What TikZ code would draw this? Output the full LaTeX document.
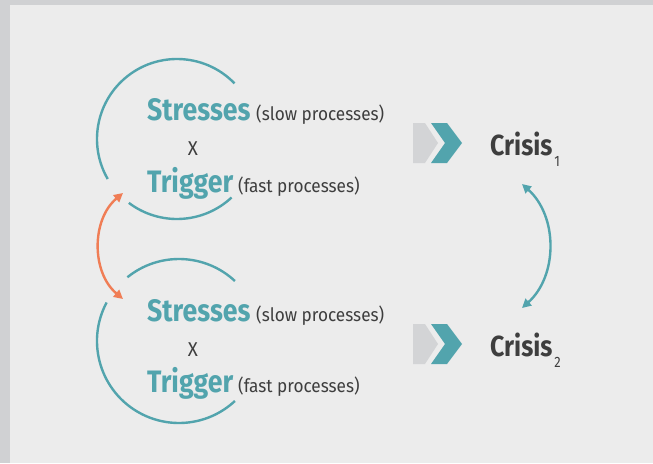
\documentclass[tikz,border=0pt]{standalone}
\usepackage{fontspec}
\setmainfont{Fira Sans}[FakeStretch=0.86]
\newfontfamily\smallfam{Fira Sans}[FakeStretch=0.93]
\usetikzlibrary{arrows.meta}
\definecolor{frame}{RGB}{208,209,211}
\definecolor{bg}{RGB}{236,236,236}
\definecolor{tealc}{RGB}{82,164,173}
\definecolor{orangec}{RGB}{240,125,85}
\definecolor{chevgray}{RGB}{211,212,214}
\definecolor{txt}{RGB}{62,62,62}
\tikzset{
  ring/.style={draw=tealc, line width=2.4pt},
  bigword/.style={anchor=base west, inner sep=0pt, text=tealc, font=\fontsize{31}{31}\selectfont\bfseries},
  smallword/.style={anchor=base west, inner sep=0pt, text=txt, font=\smallfam\fontsize{18.5}{18.5}\selectfont},
  timesx/.style={inner sep=0pt, text=txt, font=\smallfam\fontsize{20}{20}\selectfont},
  crisis/.style={anchor=base west, inner sep=0pt, text=txt, font=\fontsize{29}{29}\selectfont\bfseries},
  bidir/.style={line width=2.4pt, {Triangle[length=9pt,width=9pt]}-{Triangle[length=9pt,width=9pt]}},
}
\begin{document}
\begin{tikzpicture}[x=1pt,y=-1pt]
\useasboundingbox (0,0) rectangle (653,463);
\fill[frame] (0,0) rectangle (653,463);
\fill[bg] (10,5) rectangle (653,463);
% circles (angles negated because the y axis points down)
\draw[ring] (177,139) ++(-44:80) arc[start angle=-44, end angle=-210, radius=80];
\draw[ring] (177,139) ++(-233:80) arc[start angle=-233, end angle=-313, radius=80];
\draw[ring] (179,341) ++(-47:82) arc[start angle=-47, end angle=-129, radius=82];
\draw[ring] (179,341) ++(-152:82) arc[start angle=-152, end angle=-313, radius=82];
% texts group 1
\node[bigword] (s1) at (147,120) {Stresses};
\node[smallword] (sp1) at (256,120) {(slow processes)};
\node[timesx] (x1) at (193,149) {X};
\node[bigword] (t1) at (147,192) {Trigger};
\node[smallword] (fp1) at (238,192) {(fast processes)};
% texts group 2
\node[bigword] (s2) at (147,321) {Stresses};
\node[smallword] (sp2) at (256,321) {(slow processes)};
\node[timesx] (x2) at (193,350) {X};
\node[bigword] (t2) at (147,392) {Trigger};
\node[smallword] (fp2) at (238,392) {(fast processes)};
% chevrons
\fill[chevgray] (413,123) -- (425,123) -- (438,143) -- (425,163) -- (413,163) -- cycle;
\fill[tealc] (431,123) -- (447,123) -- (462,143) -- (447,163) -- (431,163) -- (445,143) -- cycle;
\fill[chevgray] (413,324) -- (425,324) -- (438,344) -- (425,364) -- (413,364) -- cycle;
\fill[tealc] (431,324) -- (447,324) -- (462,344) -- (447,364) -- (431,364) -- (445,344) -- cycle;
% crisis
\node[crisis] (c1) at (490,155) {Crisis\kern2pt\raisebox{-11pt}{\fontsize{15}{15}\selectfont\mdseries 1}};
\node[crisis] (c2) at (490,356) {Crisis\kern2pt\raisebox{-11pt}{\fontsize{15}{15}\selectfont\mdseries 2}};
% connectors
\coordinate (o1) at (123,193);
\coordinate (o2) at (123,299);
\draw[bidir, orangec] (o1) to[bend right=50] (o2);
\coordinate (k1) at (522,184);
\coordinate (k2) at (522,308);
\draw[bidir, tealc] (k1) to[bend left=48] (k2);
\end{tikzpicture}
\end{document}
